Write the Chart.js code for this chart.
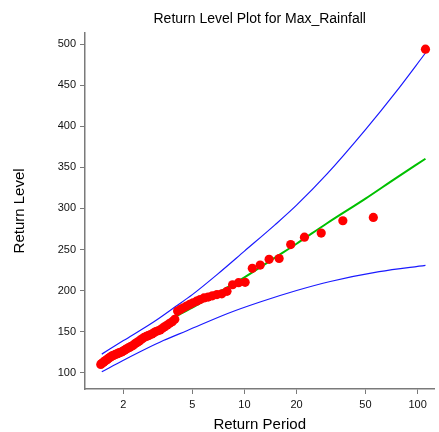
<!DOCTYPE html>
<html>
<head>
<meta charset="utf-8">
<script src="https://cdn.jsdelivr.net/npm/chart.js@4"></script>
<style>
  html, body { margin: 0; padding: 0; background: #fff; }
  #wrap { width: 439px; height: 432px; }
</style>
</head>
<body>
<div id="wrap"><canvas id="rlChart"></canvas></div>
<script>
// observed return periods / levels (plotting positions)
const returnPeriods = [111, 55.5, 37, 27.75, 22.2, 18.5, 15.86, 13.88, 12.33, 11.1,
  10.09, 9.25, 8.54, 7.93, 7.4, 6.94, 6.53, 6.17, 5.84, 5.55,
  5.29, 5.05, 4.83, 4.63, 4.44, 4.27, 4.11, 3.96, 3.83, 3.7,
  3.58, 3.47, 3.36, 3.26, 3.17, 3.08, 3.0, 2.92, 2.85, 2.78,
  2.71, 2.64, 2.58, 2.52, 2.47, 2.41, 2.36, 2.31, 2.27, 2.22,
  2.18, 2.13, 2.09, 2.06, 2.02, 1.98, 1.95, 1.91, 1.88, 1.85,
  1.82, 1.79, 1.76, 1.73, 1.71, 1.68, 1.66, 1.63, 1.61, 1.59,
  1.56, 1.54, 1.52, 1.50, 1.48];
const returnLevels = [494, 289, 285, 270, 265, 256, 239, 238, 231, 227,
  210, 209.5, 207, 199, 196, 195, 193.5, 192, 191, 189,
  187, 185, 183, 181, 179, 177, 175, 165, 162, 160,
  158, 156, 154, 152, 151, 150, 148.5, 147, 146, 145,
  144, 143, 141.5, 140, 138.5, 137, 136, 134.5, 133, 132,
  131, 130, 129, 128, 127, 126, 125, 124.5, 124, 123,
  122.5, 122, 121, 120.5, 120, 119, 118, 117, 116, 115,
  114, 113, 112, 111, 110];

// fitted curve
const fitPeriods = [1.5, 2, 3, 4, 5, 7, 10, 15, 20, 30, 50, 75, 111];
const fitLevels = [110, 126, 150, 168, 179, 197, 216, 240, 257, 282, 312, 337, 360.5];

// confidence bounds
const upperPeriods = [1.5, 2, 3, 4, 5, 7, 10, 15, 20, 30, 50, 75, 111];
const upperLevels = [122.5, 139, 162, 180.5, 195, 220, 248, 280, 304, 342, 396, 442, 489.4];
const lowerPeriods = [1.5, 2, 3.4, 4.65, 8, 12.3, 20, 31.3, 60, 111];
const lowerLevels = [101, 115, 139, 151, 172, 186, 200, 211, 223, 230.7];

const xTicks = [2, 5, 10, 20, 50, 100];
const yTicks = [100, 150, 200, 250, 300, 350, 400, 450, 500];

function toXY(xs, ys) {
    return xs.map((x, i) => ({ x: x, y: ys[i] }));
}

const axisGray = '#7a7a7a';

const ctx = document.getElementById('rlChart').getContext('2d');
new Chart(ctx, {
    type: 'scatter',
    data: {
        datasets: [{
            label: 'Observed',
            data: toXY(returnPeriods, returnLevels),
            backgroundColor: '#ff0000',
            borderColor: '#ff0000',
            pointRadius: 4.6,
            pointBorderWidth: 0,
            order: 0
        }, {
            type: 'line',
            label: 'Fit',
            data: toXY(fitPeriods, fitLevels),
            borderColor: '#00c000',
            borderWidth: 2,
            pointRadius: 0,
            cubicInterpolationMode: 'monotone',
            fill: false,
            order: 1
        }, {
            type: 'line',
            label: 'Upper',
            data: toXY(upperPeriods, upperLevels),
            borderColor: '#1a1aff',
            borderWidth: 1.2,
            pointRadius: 0,
            cubicInterpolationMode: 'monotone',
            fill: false,
            order: 2
        }, {
            type: 'line',
            label: 'Lower',
            data: toXY(lowerPeriods, lowerLevels),
            borderColor: '#1a1aff',
            borderWidth: 1.2,
            pointRadius: 0,
            cubicInterpolationMode: 'monotone',
            fill: false,
            order: 2
        }]
    },
    options: {
        responsive: true,
        maintainAspectRatio: false,
        animation: false,
        layout: { padding: 0 },
        plugins: {
            legend: { display: false },
            tooltip: { enabled: false },
            title: {
                display: true,
                fullSize: false,
                text: 'Return Level Plot for Max_Rainfall',
                color: '#000',
                font: { family: 'Liberation Sans', size: 14, weight: 'normal' },
                padding: { top: 11, bottom: 5 }
            }
        },
        scales: {
            x: {
                type: 'logarithmic',
                min: 1.2,
                max: 125,
                afterBuildTicks: (scale) => {
                    scale.ticks = xTicks.map(v => ({ value: v }));
                },
                afterFit: (scale) => { scale.height = 43; },
                grid: {
                    drawOnChartArea: false,
                    drawTicks: true,
                    tickLength: 5,
                    color: axisGray
                },
                border: { display: true, color: axisGray, width: 1.5 },
                ticks: {
                    color: '#111',
                    padding: 4,
                    maxRotation: 0,
                    font: { family: 'Liberation Sans', size: 11 },
                    callback: (v) => String(v)
                },
                title: {
                    display: true,
                    text: 'Return Period',
                    color: '#000',
                    font: { family: 'Liberation Sans', size: 15, lineHeight: 1 },
                    padding: { top: 0, bottom: 0 }
                }
            },
            y: {
                min: 80,
                max: 514,
                afterBuildTicks: (scale) => {
                    scale.ticks = yTicks.map(v => ({ value: v }));
                },
                afterFit: (scale) => { scale.width = 85; },
                grid: {
                    drawOnChartArea: false,
                    drawTicks: true,
                    tickLength: 5,
                    color: axisGray
                },
                border: { display: true, color: axisGray, width: 1.5 },
                ticks: {
                    color: '#111',
                    padding: 4,
                    font: { family: 'Liberation Sans', size: 11 }
                },
                title: {
                    display: true,
                    text: 'Return Level',
                    color: '#000',
                    font: { family: 'Liberation Sans', size: 15 },
                    padding: { top: 11, bottom: 0 }
                }
            }
        }
    }
});
</script>
</body>
</html>
